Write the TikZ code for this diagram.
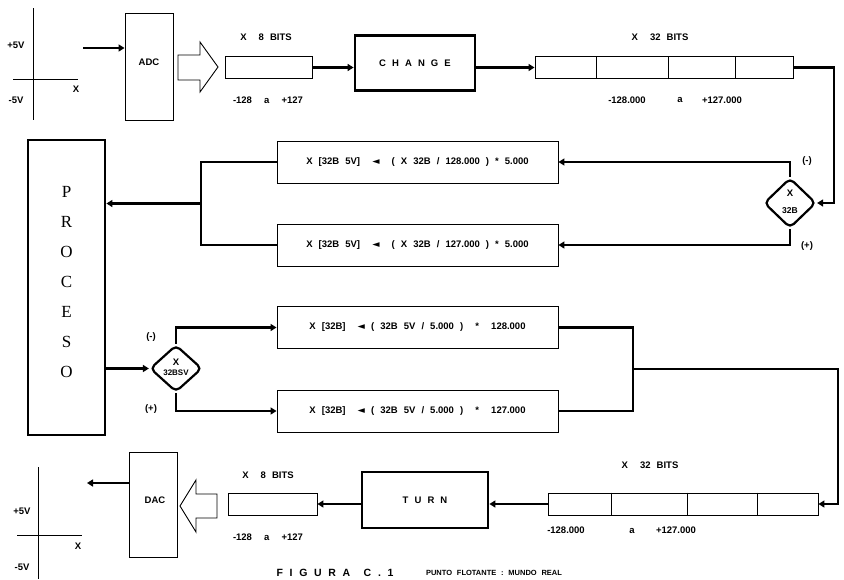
\documentclass[tikz,border=0pt]{standalone}
\usepackage{fontspec}
\setmainfont{Liberation Sans}[WordSpace=2.3]
\newfontfamily\trifont{DejaVu Sans}
\newfontfamily\procfont{Liberation Serif}
\usetikzlibrary{arrows.meta,shapes.geometric}
\newcommand\lblfont{\bfseries\fontsize{9.5}{11}\selectfont}
\newcommand\mytri{{\trifont\bfseries ◄}}
\tikzset{
 reg/.style={draw, line width=0.9pt, inner sep=0, minimum height=22pt},
 fbox/.style={draw, line width=0.9pt, inner sep=0, minimum width=281pt, minimum height=42pt, font=\lblfont},
 heavy/.style={draw, line width=2.8pt, inner sep=0, font=\lblfont},
 conv/.style={draw, line width=0.9pt, inner sep=0, minimum width=48pt},
 cond/.style={draw, diamond, line width=2.2pt, rounded corners=5pt, inner sep=0},
 wire/.style={line width=2.8pt},
 arr/.style={wire, -{Triangle[length=6pt,width=7pt]}},
 lbl/.style={font=\lblfont, inner sep=0},
 axis/.style={line width=1pt},
 hollow/.style={draw, line width=0.9pt, line join=miter},
}
\begin{document}
\begin{tikzpicture}[x=1pt,y=-1pt]
\useasboundingbox (0,0) rectangle (844,579);
\fill[white] (0,0) rectangle (844,579);

% top axes
\draw[axis] (33,8) -- (33,120);
\draw[axis] (13,79) -- (78,79);
\node[lbl] (p5a) at (16,45) {+5V};
\node[lbl] (m5a) at (16,100) {-5V};
\node[lbl] (xa) at (76,89) {X};

% top row
\node[conv, minimum height=107pt] (adc) at (149,66.5) {};
\node[lbl] (adct) at (149,62) {ADC};
\coordinate (in1) at (83,48);
\draw[arr] (in1) -- (in1 -| adc.west);
\draw[hollow] (178,55) -- (200,55) -- (200,42) -- (218,67) -- (200,92) -- (200,80) -- (178,80) -- cycle;
\node[reg, minimum width=87pt] (r8a) at (268.5,67.5) {};
\node[lbl] (r8at) at (266,37) {X\ \ 8 BITS};
\node[lbl] (r8ar) at (268,100) {-128\ \ a\ \ +127};
\node[heavy, minimum width=120pt, minimum height=55pt] (change) at (415,63) {C H A N G E};
\draw[arr] (r8a.east) -- (r8a.east -| change.west);
\node[reg, minimum width=258pt] (r32a) at (664,67.5) {};
\foreach \d in {62,134,201} \draw[line width=0.9pt] ([xshift=\d pt]r32a.north west) -- ([xshift=\d pt]r32a.south west);
\draw[arr] (change.east |- r32a.west) -- (r32a.west);
\node[lbl] (r32at) at (660,37) {X\ \ 32 BITS};
\node[lbl] (r32al) at (627,100) {-128.000};
\node[lbl] (r32aa) at (680,100) {a};
\node[lbl] (r32ah) at (722,100) {+127.000};

% upper decision
\node[cond, minimum width=52pt, minimum height=50pt] (d1) at (790,203) {};
\node[lbl] (d1x) at ([yshift=10pt]d1.center) {X};
\node[lbl, font=\bfseries\fontsize{8.5}{10}\selectfont] (d1b) at ([yshift=-8pt]d1.center) {32B};
\coordinate (c1) at (834,67.5);
\draw[arr] (r32a.east) -- (c1) |- (d1.east);
\node[fbox] (b1) at (417.5,162) {X [32B 5V]\ \ \mytri\ \ ( X 32B / 128.000 ) * 5.000};
\node[fbox] (b2) at (417.5,245) {X [32B 5V]\ \ \mytri\ \ ( X 32B / 127.000 ) * 5.000};
\draw[arr] (d1.north) |- (b1.east);
\draw[arr] (d1.south) |- (b2.east);
\node[lbl] (minus1) at (807,161) {(-)};
\node[lbl] (plus1) at (807,246) {(+)};

% PROCESO
\node[draw, line width=2.8pt, minimum width=77pt, minimum height=295pt, inner sep=0] (proc) at (66.5,287.5) {};
\foreach \ch [count=\i from 0] in {P,R,O,C,E,S,O}
  \node[inner sep=0, font=\procfont\fontsize{17}{17}\selectfont] (pl\i) at (66.5,192+30*\i) {\ch};
\coordinate (j1) at (201,203.5);
\draw[wire] (b1.west) -| (j1) |- (b2.west);
\draw[arr] (j1) -- (j1 -| proc.east);

% lower decision
\node[cond, minimum width=52pt, minimum height=47pt] (d2) at (176,368.5) {};
\node[lbl] (d2x) at ([yshift=6pt]d2.center) {X};
\node[lbl, font=\bfseries\fontsize{8}{9}\selectfont] (d2b) at ([yshift=-4pt]d2.center) {32BSV};
\draw[arr] (proc.east |- d2.west) -- (d2.west);
\node[fbox] (b3) at (417.5,327.5) {X [32B]\ \ \mytri\ ( 32B 5V / 5.000 )\ \ *\ \ 128.000};
\node[fbox] (b4) at (417.5,411) {X [32B]\ \ \mytri\ ( 32B 5V / 5.000 )\ \ *\ \ 127.000};
\draw[arr] (d2.north) |- (b3.west);
\draw[arr] (d2.south) |- (b4.west);
\node[lbl] (minus2) at (151,337) {(-)};
\node[lbl] (plus2) at (151,409) {(+)};

% right junction
\coordinate (j2) at (633,369);
\coordinate (c2) at (838,369);
\draw[wire] (b3.east) -| (j2) |- (b4.east);

% bottom row
\node[reg, minimum width=270pt] (r32b) at (683,504) {};
\foreach \d in {64,140,210} \draw[line width=0.9pt] ([xshift=\d pt]r32b.north west) -- ([xshift=\d pt]r32b.south west);
\draw[arr] (j2) -- (c2) |- (r32b.east);
\node[lbl] (r32bt) at (650,465) {X\ \ 32 BITS};
\node[lbl] (r32bl) at (566,530) {-128.000};
\node[lbl] (r32ba) at (632,531) {a};
\node[lbl] (r32bh) at (676,530) {+127.000};
\node[heavy, minimum width=126pt, minimum height=56pt] (turn) at (425,500) {T U R N};
\draw[arr] (r32b.west) -- (r32b.west -| turn.east);
\node[reg, minimum width=89pt] (r8b) at (272.5,504) {};
\draw[arr] (turn.west |- r8b.east) -- (r8b.east);
\node[lbl] (r8bt) at (268,475) {X\ \ 8 BITS};
\node[lbl] (r8br) at (268,537) {-128\ \ a\ \ +127};
\draw[hollow] (217,494) -- (196,494) -- (196,480) -- (180,506) -- (196,532) -- (196,518) -- (217,518) -- cycle;
\node[conv, minimum height=105pt] (dac) at (153,504.5) {};
\node[lbl] (dact) at (155,500) {DAC};
\coordinate (out1) at (87,483);
\draw[arr] (out1 -| dac.west) -- (out1);

% bottom axes
\draw[axis] (38,467) -- (38,579);
\draw[axis] (17,535) -- (82,535);
\node[lbl] (p5b) at (22,511) {+5V};
\node[lbl] (m5b) at (22,567) {-5V};
\node[lbl] (xb) at (78,546) {X};

% caption
\node[inner sep=0, font=\bfseries\fontsize{10.5}{12}\selectfont] (cap1) at (335,573) {F I G U R A\ \ C . 1};
\node[inner sep=0, font=\bfseries\fontsize{7.5}{9}\selectfont] (cap2) at (494,573) {PUNTO FLOTANTE : MUNDO REAL};
\end{tikzpicture}
\end{document}
